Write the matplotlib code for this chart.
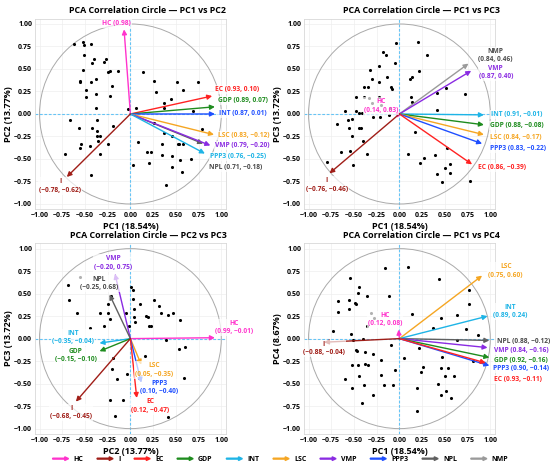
import matplotlib
matplotlib.use("Agg")
import matplotlib.pyplot as plt
import matplotlib.patches as mpatches
from matplotlib.legend_handler import HandlerPatch
from matplotlib.ticker import FixedLocator, FuncFormatter

plt.rcParams['font.family'] = ['Open Sans', 'DejaVu Sans']

variables = ['HC', 'I', 'EC', 'GDP', 'INT', 'LSC', 'VMP', 'PPP3', 'NPL', 'NMP']
colors = ['#FF33CC', '#A01E18', '#FF2222', '#1E8C1E', '#1EB4E6',
          '#F5A623', '#8A2BE2', '#1F4FFF', '#606060', '#9A9A9A']
col = dict(zip(variables, colors))
label_col = dict(col, NPL='#4A4A4A', NMP='#4A4A4A')

# ---- panel 1: PC1 vs PC2 ----
p1_x = [-0.62, -0.52, -0.51, -0.43, -0.51, -0.42, -0.40, -0.27, -0.29, -0.52, -0.25, -0.23,
        -0.14, -0.56, -0.55, -0.43, -0.38, -0.20, -0.49, -0.49, -0.38, -0.23, -0.38, -0.66,
        -0.37, -0.57, -0.42, -0.19, -0.37, -0.34, -0.37, -0.54, -0.55, -0.45, -0.36, -0.25,
        -0.72, -0.34, -0.43, -0.03, 0.06, 0.14, 0.26, 0.28, 0.51, 0.58, 0.74, 0.37, 0.37,
        0.45, 0.69, 0.26, 0.79, 0.37, 0.46, 0.52, 0.53, 0.58, 0.08, 0.35, 0.18, 0.23, 0.21,
        0.03, 0.35, 0.46, 0.55, 0.67, 0.46, 0.57, 0.39]
p1_y = [0.78, 0.80, 0.77, 0.78, 0.65, 0.57, 0.61, 0.61, 0.58, 0.49, 0.47, 0.48,
        0.48, 0.36, 0.37, 0.36, 0.39, 0.31, 0.27, 0.19, 0.22, 0.20, 0.07, -0.07,
        -0.07, -0.16, -0.16, -0.13, -0.19, -0.24, -0.24, -0.33, -0.38, -0.36, -0.30, -0.33,
        -0.44, -0.45, -0.68, 0.06, 0.07, 0.47, 0.37, 0.24, 0.35, 0.27, 0.35, 0.12, 0.07,
        0.17, 0.03, -0.10, -0.17, -0.21, -0.25, -0.33, -0.33, -0.33, -0.31, -0.33, -0.42, -0.42, -0.55,
        -0.57, -0.46, -0.47, -0.51, -0.50, -0.59, -0.65, -0.79]
p1_names = ['NPL', 'HC', 'EC', 'GDP', 'INT', 'LSC', 'VMP', 'PPP3', 'I']
p1_tip_x = [0.80, -0.07, 0.90, 0.93, 0.93, 0.92, 0.88, 0.82, -0.70]
p1_tip_y = [-0.33, 0.94, 0.20, 0.08, 0.00, -0.23, -0.35, -0.44, -0.70]
p1_load_x = [0.71, None, 0.93, 0.89, 0.87, 0.83, 0.79, 0.76, -0.78]
p1_load_y = [-0.18, 0.98, 0.10, 0.07, 0.01, -0.12, -0.20, -0.25, -0.62]

# ---- panel 2: PC1 vs PC3 ----
p2_x = [-0.04, 0.20, 0.30, -0.18, -0.15, -0.22, -0.05, -0.32, -0.14, 0.14, 0.12, 0.22,
        -0.30, -0.35, -0.39, -0.23, -0.09, -0.08, -0.48, -0.39, -0.33, -0.22, 0.13, 0.14,
        -0.30, -0.20, -0.10, -0.60, -0.48, -0.44, -0.41, -0.29, -0.21, -0.11, -0.57, -0.52,
        -0.69, -0.56, -0.44, -0.42, -0.52, -0.40, -0.64, -0.54, -0.36, -0.51, -0.80, 0.41,
        0.51, 0.72, 0.41, 0.17, 0.10, 0.27, 0.23, 0.39, 0.52, 0.56, 0.50, 0.41, 0.47, 0.56, 0.78]
p2_y = [0.79, 0.80, 0.65, 0.69, 0.66, 0.53, 0.57, 0.49, 0.41, 0.41, 0.39, 0.48,
        0.39, 0.30, 0.30, 0.35, 0.30, 0.28, 0.19, 0.19, 0.18, 0.19, 0.19, 0.13,
        0.12, 0.10, 0.07, 0.03, 0.03, 0.01, 0.01, -0.03, -0.03, -0.01, -0.07, -0.06,
        -0.11, -0.16, -0.16, -0.16, -0.24, -0.30, -0.42, -0.41, -0.44, -0.57, -0.53, 0.23,
        0.29, 0.22, 0.04, -0.20, -0.45, -0.49, -0.55, -0.46, -0.38, -0.56, -0.60, -0.67, -0.76, -0.66, -0.74]
p2_names = ['HC', 'NMP', 'VMP', 'INT', 'GDP', 'LSC', 'PPP3', 'EC', 'I']
p2_tip_x = [0.03, 0.76, 0.79, 0.93, 0.93, 0.93, 0.91, 0.80, -0.77]
p2_tip_y = [0.01, 0.56, 0.48, -0.01, -0.12, -0.23, -0.33, -0.56, -0.66]
p2_load_x = [0.14, 0.84, 0.87, 0.91, 0.88, 0.84, 0.83, 0.86, -0.76]
p2_load_y = [0.03, 0.46, 0.40, -0.01, -0.08, -0.17, -0.22, -0.39, -0.46]

# ---- panel 3: PC2 vs PC3 ----
p3_x = [-0.69, -0.68, -0.56, -0.59, -0.44, -0.33, -0.29, -0.25, -0.25, -0.23, -0.21, -0.05,
        -0.01, 0.01, 0.03, 0.03, 0.04, 0.04, 0.05, 0.11, 0.17, 0.19, 0.20, 0.26, 0.31, 0.34,
        0.41, 0.47, 0.55, 0.23, 0.39, 0.53, 0.60, 0.59, 0.16, -0.19, -0.20, -0.15, -0.04,
        -0.23, -0.08, -0.17, 0.41]
p3_y = [0.60, 0.43, 0.68, 0.28, 0.12, 0.28, 0.14, 0.38, 0.28, 0.22, 0.47, 0.28,
        0.14, 0.57, 0.54, 0.44, 0.33, 0.24, 0.19, 0.39, 0.25, 0.24, 0.14, 0.43, 0.36, 0.28,
        0.26, 0.28, 0.21, 0.14, -0.01, -0.11, -0.09, -0.44, -0.19, -0.22, -0.34, -0.45, -0.39,
        -0.68, -0.68, -0.86, -0.87]
p3_names = ['VMP', 'NPL', 'HC', 'INT', 'GDP', 'LSC', 'PPP3', 'EC', 'I']
p3_tip_x = [-0.17, -0.23, 0.93, -0.34, -0.34, 0.12, 0.12, 0.07, -0.60]
p3_tip_y = [0.72, 0.49, 0.01, -0.05, -0.14, -0.29, -0.49, -0.66, -0.70]
p3_load_x = [-0.20, -0.25, 0.99, -0.35, -0.15, 0.05, 0.10, 0.12, -0.68]
p3_load_y = [0.75, 0.68, -0.01, -0.04, -0.10, -0.35, -0.40, -0.47, -0.45]

# ---- panel 4: PC1 vs PC4 ----
p4_x = [-0.16, 0.10, -0.54, 0.44, -0.44, -0.46, -0.55, -0.68, -0.49, -0.48, -0.36, -0.11,
        -0.68, -0.55, -0.31, -0.36, -0.28, 0.14, 0.46, 0.37, 0.63, 0.77, 0.77, 0.73, 0.86,
        -0.73, -0.53, -0.51, -0.40, -0.09, 0.22, 0.63, -0.48, -0.47, -0.52, -0.46, -0.38,
        -0.29, -0.38, -0.35, -0.20, -0.05, -0.60, -0.44, -0.52, -0.39, -0.29, -0.20, -0.17,
        -0.07, -0.41, 0.05, 0.26, 0.24, 0.46, 0.53, 0.47, 0.50, 0.60, 0.42, 0.51, 0.57, 0.46,
        0.19, 0.19, 0.81]
p4_y = [0.79, 0.80, 0.67, 0.66, 0.57, 0.51, 0.43, 0.42, 0.40, 0.38, 0.47, 0.47,
        0.30, 0.33, 0.28, 0.14, 0.23, 0.27, 0.23, 0.12, 0.26, 0.54, 0.38, 0.11, 0.04,
        0.08, 0.05, -0.01, 0.00, -0.07, -0.10, -0.01, -0.13, -0.14, -0.29, -0.29, -0.15,
        -0.17, -0.28, -0.29, -0.24, -0.35, -0.45, -0.41, -0.55, -0.52, -0.63, -0.40, -0.52,
        -0.52, -0.72, -0.22, -0.32, -0.37, -0.33, -0.33, -0.20, -0.41, -0.41, -0.50, -0.58, -0.66, -0.63,
        -0.55, -0.80, -0.25]
p4_names = ['HC', 'LSC', 'INT', 'NPL', 'VMP', 'GDP', 'PPP3', 'EC', 'I']
p4_tip_x = [-0.01, 0.91, 0.97, 0.99, 0.97, 0.99, 0.99, 0.95, -0.83]
p4_tip_y = [0.10, 0.70, 0.25, -0.02, -0.10, -0.21, -0.30, -0.27, -0.04]
p4_load_x = [0.12, 0.75, 0.89, 0.88, 0.84, 0.92, 0.90, 0.93, -0.88]
p4_load_y = [0.08, 0.60, 0.24, -0.12, -0.16, -0.16, -0.14, -0.11, -0.04]

titles = ['PCA Correlation Circle \u2014 PC1 vs PC2', 'PCA Correlation Circle \u2014 PC1 vs PC3',
          'PCA Correlation Circle \u2014 PC2 vs PC3', 'PCA Correlation Circle \u2014 PC1 vs PC4']
xlabels = ['PC1 (18.54%)', 'PC1 (18.54%)', 'PC2 (13.77%)', 'PC1 (18.54%)']
ylabels = ['PC2 (13.77%)', 'PC3 (13.72%)', 'PC3 (13.72%)', 'PC4 (8.67%)']

# label placement (x, y, ha, two lines?)
p1_lab = [(0.87, -0.60, 'left', False), (-0.15, 1.01, 'center', False), (0.93, 0.27, 'left', False),
          (0.96, 0.15, 'left', False), (0.97, 0.00, 'left', False), (0.96, -0.24, 'left', False),
          (0.93, -0.35, 'left', False), (0.88, -0.47, 'left', False), (-0.77, -0.80, 'center', True)]
p2_lab = [(-0.20, 0.09, 'center', True), (1.06, 0.65, 'center', True), (1.06, 0.46, 'center', True),
          (1.01, -0.01, 'left', False), (1.00, -0.13, 'left', False), (1.00, -0.26, 'left', False),
          (1.00, -0.38, 'left', False), (0.87, -0.59, 'left', False), (-0.80, -0.79, 'center', True)]
p3_lab = [(-0.19, 0.84, 'center', True), (-0.34, 0.61, 'center', True), (1.14, 0.12, 'center', True),
          (-0.63, 0.01, 'center', True), (-0.60, -0.19, 'center', True), (0.26, -0.35, 'center', True),
          (0.32, -0.54, 'center', True), (0.22, -0.75, 'center', True), (-0.65, -0.82, 'center', True)]
p4_lab = [(-0.16, 0.21, 'center', True), (1.17, 0.75, 'center', True), (1.22, 0.30, 'center', True),
          (1.07, -0.03, 'left', False), (1.04, -0.13, 'left', False), (1.04, -0.24, 'left', False),
          (1.03, -0.33, 'left', False), (1.04, -0.45, 'left', False), (-0.83, -0.11, 'center', True)]

panels = [
    (p1_x, p1_y, p1_names, p1_tip_x, p1_tip_y, p1_load_x, p1_load_y, p1_lab),
    (p2_x, p2_y, p2_names, p2_tip_x, p2_tip_y, p2_load_x, p2_load_y, p2_lab),
    (p3_x, p3_y, p3_names, p3_tip_x, p3_tip_y, p3_load_x, p3_load_y, p3_lab),
    (p4_x, p4_y, p4_names, p4_tip_x, p4_tip_y, p4_load_x, p4_load_y, p4_lab),
]

# axes rectangles in figure fraction
rects = [[0.0636, 0.5526, 0.347, 0.4077], [0.5527, 0.5526, 0.347, 0.4077],
         [0.0636, 0.0726, 0.347, 0.4077], [0.5527, 0.0726, 0.347, 0.4077]]
title_x = [0.59, 0.615, 0.595, 0.615]


def fmt(v):
    return f'{v:.2f}'.replace('-', '\u2212')


fig = plt.figure(figsize=(5.5, 4.68), dpi=100)
ticks = [-1.0, -0.75, -0.5, -0.25, 0.0, 0.25, 0.5, 0.75, 1.0]

for k, (px, py, names, tx, ty, lx, ly, lab) in enumerate(panels):
    ax = fig.add_axes(rects[k])
    ax.set_xlim(-1.05, 1.05)
    ax.set_ylim(-1.06, 1.06)
    ax.xaxis.set_major_locator(FixedLocator(ticks))
    ax.yaxis.set_major_locator(FixedLocator(ticks))
    ax.xaxis.set_major_formatter(FuncFormatter(lambda v, p: fmt(v)))
    ax.yaxis.set_major_formatter(FuncFormatter(lambda v, p: fmt(v)))
    ax.tick_params(length=0, labelsize=5, pad=2)
    for t in ax.get_xticklabels() + ax.get_yticklabels():
        t.set_fontweight('bold')
    ax.grid(True, color='#eeeeee', lw=0.5)
    ax.set_axisbelow(True)
    for s in ax.spines.values():
        s.set_color('#d8d8d8')
        s.set_linewidth(0.6)
    ax.axhline(0, color='#66c4f5', ls=(0, (2.5, 1.5)), lw=0.8, zorder=1)
    ax.axvline(0, color='#66c4f5', ls=(0, (2.5, 1.5)), lw=0.8, zorder=1)
    ax.add_patch(mpatches.Circle((0, 0), 1.0, fill=False, ec='#aaaaaa', lw=0.7, zorder=1))
    ax.scatter(px, py, s=5, c='black', zorder=2, linewidths=0)

    for i, nm in enumerate(names):
        c = col[nm]
        if k == 0 and nm == 'INT':
            c = col['PPP3']
        if k == 0 and nm == 'PPP3':
            c = col['INT']
        ax.annotate('', xy=(tx[i], ty[i]), xytext=(0, 0),
                    arrowprops=dict(arrowstyle='-|>', color=c, lw=1.0,
                                    mutation_scale=7, shrinkA=0, shrinkB=0),
                    zorder=3)
        if lx[i] is None:
            val = f'({fmt(ly[i])})'
        else:
            val = f'({fmt(lx[i])}, {fmt(ly[i])})'
        x0, y0, ha, two = lab[i]
        txt = f'{nm}\n{val}' if two else f'{nm} {val}'
        tc = c if nm not in ('NPL', 'NMP') else label_col[nm]
        ax.text(x0, y0, txt, color=tc, fontsize=4.8, fontweight='bold',
                ha=ha, va='center', multialignment='center', linespacing=1.25, zorder=4,
                bbox=dict(boxstyle='square,pad=0.15', fc='white', ec='none', alpha=0.7))

    ax.set_title(titles[k], fontsize=6.4, fontweight='bold', pad=4, x=title_x[k])
    ax.set_xlabel(xlabels[k], fontsize=6.5, fontweight='bold', labelpad=2)
    ax.set_ylabel(ylabels[k], fontsize=6.5, fontweight='bold', labelpad=1)


class ArrowHandler(HandlerPatch):
    def create_artists(self, legend, orig_handle, xdescent, ydescent,
                       width, height, fontsize, trans):
        a = mpatches.FancyArrow(-xdescent, height / 2 - ydescent, width, 0,
                                width=height * 0.18, head_width=height * 0.75,
                                head_length=height * 0.8, length_includes_head=True,
                                color=orig_handle.get_facecolor())
        a.set_transform(trans)
        return [a]


handles = [mpatches.Patch(color=col[v], label=v) for v in variables]
fig.legend(handles=handles, loc='center', bbox_to_anchor=(0.51, 0.018), ncol=10,
           frameon=False, handlelength=2.3, handletextpad=0.7,
           columnspacing=2.0, handler_map={mpatches.Patch: ArrowHandler()},
           prop={'weight': 'bold', 'size': 5})

fig.savefig('out.png', dpi=100)
